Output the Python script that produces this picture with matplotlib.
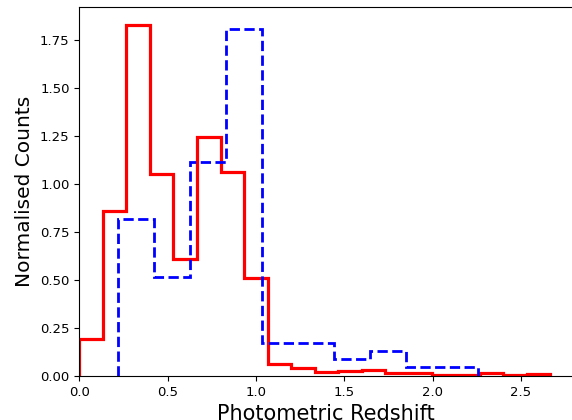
#!/usr/bin/env python3
"""Normalised photometric-redshift distributions of two samples (step histograms)."""

import numpy as np

import matplotlib
matplotlib.use("Agg")
import matplotlib.pyplot as plt  # noqa: E402

# red sample: 20 bins over [0, 2.666]
red_edges = np.linspace(0.0, 2.666, 21)
red_counts = [0.191, 0.859, 1.830, 1.050, 0.608, 1.247, 1.064, 0.509, 0.062, 0.040,
              0.019, 0.026, 0.031, 0.015, 0.013, 0.005, 0.005, 0.013, 0.005, 0.009]

# blue sample: 10 bins over [0.221, 2.259]
blue_edges = np.linspace(0.221, 2.259, 11)
blue_counts = [0.819, 0.516, 1.116, 1.806, 0.174, 0.174, 0.088, 0.130, 0.049, 0.049]

x_ticks = [0.0, 0.5, 1.0, 1.5, 2.0, 2.5]
y_ticks = [0.00, 0.25, 0.50, 0.75, 1.00, 1.25, 1.50, 1.75]


def main() -> None:
    fig = plt.figure(figsize=(5.72, 4.2), dpi=100)
    ax = fig.add_axes([0.1387, 0.1048, 0.8623, 0.8786])

    ax.stairs(red_counts, red_edges, baseline=0, color="red", lw=2.3)
    ax.stairs(blue_counts, blue_edges, baseline=0, color="blue", lw=2.0,
              linestyle="--")

    ax.set_xlim(0.0, 2.793)
    ax.set_ylim(0.0, 1.922)
    ax.set_xticks(x_ticks)
    ax.set_yticks(y_ticks)
    ax.set_xticklabels([f"{t:.1f}" for t in x_ticks])
    ax.set_yticklabels([f"{t:.2f}" for t in y_ticks])
    ax.tick_params(labelsize=9.5)

    ax.set_xlabel("Photometric Redshift", fontsize=15)
    ax.set_ylabel("Normalised Counts", fontsize=14.5)

    fig.savefig("out.png", dpi=100)
    plt.close(fig)


if __name__ == "__main__":
    main()
